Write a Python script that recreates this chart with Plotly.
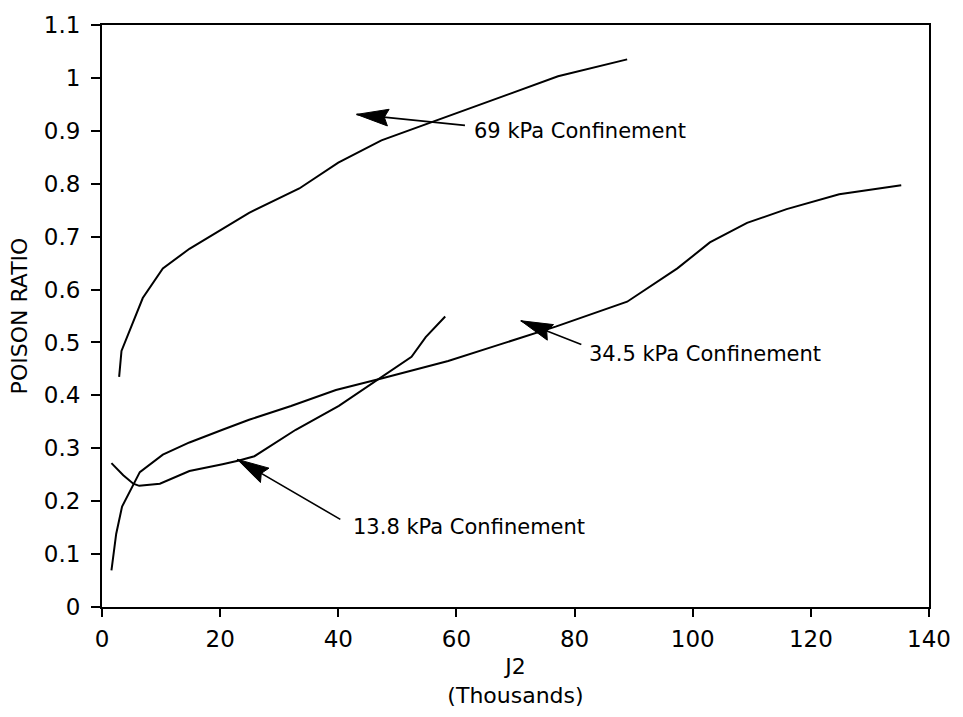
import math
import plotly.graph_objects as go

# ---- data (J2 in thousands, Poisson ratio) ----
x_69 = [2.9, 3.3, 6.9, 10.3, 14.8, 24.9, 33.4, 40.0, 47.3, 55.8, 67.0, 77.2, 88.9]
y_69 = [0.435, 0.484, 0.584, 0.640, 0.677, 0.745, 0.791, 0.840, 0.882, 0.916, 0.962, 1.003, 1.035]

x_345 = [1.6, 2.4, 3.4, 5.3, 6.4, 10.3, 14.8, 20.4, 24.9, 32.0, 39.6, 47.3, 58.6, 67.0,
         76.8, 88.9, 97.4, 102.9, 109.2, 115.9, 124.8, 135.3]
y_345 = [0.069, 0.138, 0.190, 0.231, 0.255, 0.288, 0.311, 0.335, 0.354, 0.380, 0.410, 0.432,
         0.465, 0.495, 0.530, 0.577, 0.640, 0.689, 0.726, 0.752, 0.780, 0.797]

x_138 = [1.6, 3.6, 5.3, 6.3, 9.8, 14.8, 20.4, 23.2, 25.8, 32.8, 40.1, 46.8, 52.4, 54.8, 58.1]
y_138 = [0.272, 0.249, 0.233, 0.229, 0.233, 0.257, 0.270, 0.277, 0.285, 0.335, 0.380,
         0.430, 0.473, 0.510, 0.549]

x_ticks = [0, 20, 40, 60, 80, 100, 120, 140]
y_ticks = [0, 0.1, 0.2, 0.3, 0.4, 0.5, 0.6, 0.7, 0.8, 0.9, 1.0, 1.1]
y_tick_labels = ["0", "0.1", "0.2", "0.3", "0.4", "0.5", "0.6", "0.7", "0.8", "0.9", "1", "1.1"]

# labels: arrow head, arrow tail, text anchor (data coordinates)
labels = ["69 kPa Confinement", "34.5 kPa Confinement", "13.8 kPa Confinement"]
head_x = [43.1, 70.9, 22.9]
head_y = [0.931, 0.541, 0.279]
tail_x = [61.7, 81.4, 40.6]
tail_y = [0.910, 0.495, 0.164]
text_x = [62.6, 82.1, 42.2]
text_y = [0.900, 0.478, 0.151]

FONT = "DejaVu Sans"
W, H = 963, 717
M = dict(l=102, r=30, t=16, b=110)
X_RANGE = [0, 140]
Y_RANGE = [0, 1.1]
# pixel scale of the plot area (used to shape the arrowheads)
sx = (W - M["l"] - M["r"]) / (X_RANGE[1] - X_RANGE[0])
sy = (H - M["t"] - M["b"]) / (Y_RANGE[1] - Y_RANGE[0])
HEAD_LEN, HEAD_HALF, NOTCH = 32.0, 8.5, 4.0

fig = go.Figure()
for xs, ys, name in [(x_69, y_69, "69 kPa"), (x_345, y_345, "34.5 kPa"), (x_138, y_138, "13.8 kPa")]:
    fig.add_trace(go.Scatter(x=xs, y=ys, mode="lines", name=name,
                             line=dict(color="black", width=2), showlegend=False,
                             hoverinfo="skip"))

for i, t in enumerate(labels):
    # shaft
    fig.add_annotation(x=head_x[i], y=head_y[i], ax=tail_x[i], ay=tail_y[i],
                       xref="x", yref="y", axref="x", ayref="y", text="",
                       showarrow=True, arrowhead=0, arrowwidth=1.6,
                       arrowcolor="black", standoff=0, startstandoff=0)
    # filled arrowhead, built in pixel space then mapped back to data units
    dxp = (tail_x[i] - head_x[i]) * sx
    dyp = (tail_y[i] - head_y[i]) * sy
    n = math.hypot(dxp, dyp)
    ux, uy = dxp / n, dyp / n
    px, py = -uy, ux
    pts = [(0, 0),
           (ux * HEAD_LEN + px * HEAD_HALF, uy * HEAD_LEN + py * HEAD_HALF),
           (ux * (HEAD_LEN - NOTCH), uy * (HEAD_LEN - NOTCH)),
           (ux * HEAD_LEN - px * HEAD_HALF, uy * HEAD_LEN - py * HEAD_HALF),
           (0, 0)]
    fig.add_trace(go.Scatter(x=[head_x[i] + a / sx for a, b in pts],
                             y=[head_y[i] + b / sy for a, b in pts],
                             mode="lines", fill="toself", fillcolor="black",
                             line=dict(color="black", width=1), showlegend=False,
                             hoverinfo="skip"))
    fig.add_annotation(x=text_x[i], y=text_y[i], xref="x", yref="y", text=t,
                       showarrow=False, xanchor="left", yanchor="middle",
                       font=dict(family=FONT, size=21, color="black"))

fig.update_xaxes(range=X_RANGE, tickvals=x_ticks, ticks="outside", ticklen=8, tickwidth=1.5,
                 tickcolor="black", showline=True, linecolor="black", linewidth=2, mirror=True,
                 showgrid=False, zeroline=False, ticklabelstandoff=2,
                 tickfont=dict(family=FONT, size=23, color="black"),
                 title=dict(text="J2<br>(Thousands)", standoff=8,
                            font=dict(family=FONT, size=22, color="black")))
fig.update_yaxes(range=Y_RANGE, tickvals=y_ticks, ticktext=y_tick_labels, ticks="outside",
                 ticklen=9, tickwidth=1.5, tickcolor="black", showline=True, linecolor="black",
                 linewidth=2, mirror=True, showgrid=False, zeroline=False, ticklabelstandoff=6,
                 tickfont=dict(family=FONT, size=23, color="black"),
                 title=dict(text="POISON RATIO", standoff=10,
                            font=dict(family=FONT, size=22, color="black")))

fig.update_layout(width=W, height=H, margin=M,
                  paper_bgcolor="white", plot_bgcolor="white",
                  font=dict(family=FONT, color="black"))

fig.write_html("out.html")
